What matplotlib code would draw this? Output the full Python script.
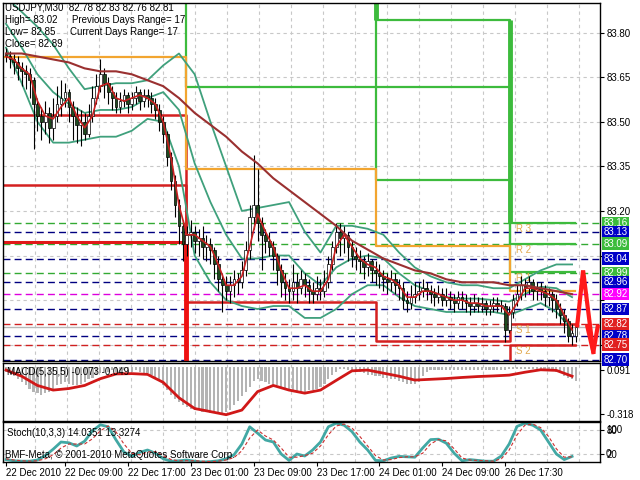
import matplotlib.pyplot as plt
from matplotlib.transforms import blended_transform_factory

# USDJPY M30 candles
opens = [83.73, 83.72, 83.71, 83.70, 83.68, 83.67, 83.66, 83.64, 83.56, 83.52,
         83.50, 83.53, 83.48, 83.52, 83.56, 83.58, 83.60, 83.55, 83.52, 83.49,
         83.50, 83.46, 83.52, 83.58, 83.62, 83.66, 83.63, 83.60, 83.58, 83.55,
         83.57, 83.59, 83.56, 83.58, 83.60, 83.57, 83.59, 83.58, 83.56, 83.54,
         83.50, 83.46, 83.38, 83.30, 83.22, 83.15, 83.09, 83.12, 83.13, 83.10,
         83.11, 83.08, 83.09, 83.07, 83.02, 82.97, 82.95, 82.93, 82.95, 82.97,
         82.96, 83.00, 83.07, 83.18, 83.22, 83.16, 83.12, 83.10, 83.08, 83.05,
         83.00, 82.96, 82.94, 82.93, 82.96, 82.94, 82.97, 82.95, 82.93, 82.92,
         82.94, 82.93, 82.96, 83.02, 83.08, 83.13, 83.11, 83.12, 83.08, 83.05,
         83.04, 83.03, 83.01, 83.03, 83.00, 82.99, 82.98, 82.97, 82.96, 82.97,
         82.95, 82.94, 82.90, 82.89, 82.91, 82.92, 82.93, 82.94, 82.93, 82.92,
         82.91, 82.92, 82.90, 82.91, 82.90, 82.89, 82.91, 82.90, 82.89, 82.88,
         82.89, 82.88, 82.89, 82.87, 82.88, 82.89, 82.88, 82.88, 82.80, 82.86,
         82.90, 82.92, 82.95, 82.94, 82.96, 82.93, 82.94, 82.93, 82.91, 82.92,
         82.90, 82.87, 82.85, 82.83, 82.78, 82.78]
highs = [83.75, 83.74, 83.73, 83.72, 83.70, 83.69, 83.68, 83.65, 83.58, 83.55,
         83.57, 83.55, 83.58, 83.62, 83.64, 83.63, 83.61, 83.57, 83.55, 83.54,
         83.53, 83.56, 83.62, 83.66, 83.71, 83.68, 83.65, 83.62, 83.60, 83.60,
         83.61, 83.60, 83.60, 83.62, 83.61, 83.61, 83.61, 83.60, 83.58, 83.56,
         83.52, 83.47, 83.40, 83.32, 83.24, 83.17, 83.15, 83.17, 83.15, 83.14,
         83.15, 83.12, 83.11, 83.08, 83.05, 82.99, 82.98, 82.98, 83.00, 82.99,
         83.03, 83.10, 83.22, 83.39, 83.34, 83.18, 83.14, 83.13, 83.10, 83.06,
         83.02, 82.99, 82.97, 83.02, 82.99, 83.00, 82.99, 82.97, 82.96, 82.98,
         82.97, 83.00, 83.05, 83.10, 83.16, 83.16, 83.15, 83.13, 83.10, 83.08,
         83.07, 83.05, 83.06, 83.04, 83.03, 83.02, 83.00, 82.99, 83.00, 82.99,
         82.97, 82.96, 82.93, 82.95, 82.96, 82.96, 82.97, 82.96, 82.95, 82.94,
         82.95, 82.94, 82.94, 82.93, 82.92, 82.93, 82.93, 82.92, 82.91, 82.92,
         82.91, 82.91, 82.90, 82.90, 82.91, 82.91, 82.90, 82.89, 82.88, 82.92,
         82.95, 82.98, 82.97, 82.98, 82.97, 82.96, 82.96, 82.95, 82.94, 82.93,
         82.92, 82.89, 82.87, 82.84, 82.82, 82.83]
lows = [83.70, 83.68, 83.66, 83.64, 83.62, 83.61, 83.58, 83.41, 83.47, 83.44,
        83.46, 83.43, 83.44, 83.50, 83.52, 83.55, 83.50, 83.44, 83.43, 83.42,
        83.44, 83.45, 83.50, 83.56, 83.60, 83.58, 83.56, 83.54, 83.53, 83.53,
        83.55, 83.53, 83.54, 83.56, 83.54, 83.55, 83.55, 83.53, 83.51, 83.47,
        83.43, 83.35, 83.27, 83.18, 83.09, 83.03, 83.05, 83.08, 83.06, 83.05,
        83.04, 83.03, 83.02, 82.97, 82.93, 82.86, 82.90, 82.89, 82.91, 82.92,
        82.94, 82.98, 83.04, 83.14, 83.10, 83.00, 83.06, 83.05, 83.00, 82.95,
        82.91, 82.90, 82.89, 82.90, 82.89, 82.92, 82.91, 82.89, 82.89, 82.90,
        82.90, 82.91, 82.94, 83.00, 83.06, 83.05, 83.06, 83.03, 83.01, 83.00,
        82.99, 82.97, 82.98, 82.96, 82.95, 82.94, 82.93, 82.92, 82.93, 82.92,
        82.90, 82.87, 82.86, 82.87, 82.89, 82.90, 82.91, 82.90, 82.89, 82.88,
        82.89, 82.88, 82.88, 82.87, 82.86, 82.87, 82.87, 82.86, 82.85, 82.86,
        82.86, 82.86, 82.85, 82.85, 82.86, 82.86, 82.86, 82.76, 82.79, 82.84,
        82.88, 82.90, 82.91, 82.92, 82.90, 82.90, 82.90, 82.88, 82.88, 82.86,
        82.84, 82.82, 82.79, 82.76, 82.75, 82.76]
closes = [83.72, 83.71, 83.70, 83.68, 83.67, 83.66, 83.64, 83.56, 83.52, 83.50,
          83.53, 83.48, 83.52, 83.56, 83.58, 83.60, 83.55, 83.52, 83.49, 83.50,
          83.46, 83.52, 83.58, 83.62, 83.66, 83.63, 83.60, 83.58, 83.55, 83.57,
          83.59, 83.56, 83.58, 83.60, 83.57, 83.59, 83.58, 83.56, 83.54, 83.50,
          83.46, 83.38, 83.30, 83.22, 83.15, 83.09, 83.12, 83.13, 83.10, 83.11,
          83.08, 83.09, 83.07, 83.02, 82.97, 82.95, 82.93, 82.95, 82.97, 82.96,
          83.00, 83.07, 83.18, 83.22, 83.16, 83.12, 83.10, 83.08, 83.05, 83.00,
          82.96, 82.94, 82.93, 82.96, 82.94, 82.97, 82.95, 82.93, 82.92, 82.94,
          82.93, 82.96, 83.02, 83.08, 83.13, 83.11, 83.12, 83.08, 83.05, 83.04,
          83.03, 83.01, 83.03, 83.00, 82.99, 82.98, 82.97, 82.96, 82.97, 82.95,
          82.94, 82.90, 82.89, 82.91, 82.92, 82.93, 82.94, 82.93, 82.92, 82.91,
          82.92, 82.90, 82.91, 82.90, 82.89, 82.91, 82.90, 82.89, 82.88, 82.89,
          82.88, 82.89, 82.87, 82.88, 82.89, 82.88, 82.88, 82.80, 82.86, 82.90,
          82.92, 82.95, 82.94, 82.96, 82.93, 82.94, 82.93, 82.91, 82.92, 82.90,
          82.87, 82.85, 82.83, 82.78, 82.79, 82.81]

# fast MA, read every 2 bars
fast_ma = [83.72, 83.71, 83.68, 83.66, 83.57, 83.52, 83.51, 83.55, 83.58, 83.52,
           83.48, 83.52, 83.62, 83.63, 83.58, 83.57, 83.58, 83.59, 83.58, 83.56,
           83.50, 83.38, 83.22, 83.12, 83.12, 83.10, 83.08, 83.02, 82.95, 82.95,
           82.98, 83.08, 83.19, 83.13, 83.08, 83.00, 82.94, 82.94, 82.95, 82.93,
           82.93, 82.97, 83.08, 83.12, 83.08, 83.04, 83.02, 83.01, 82.98, 82.97,
           82.95, 82.91, 82.91, 82.93, 82.93, 82.92, 82.91, 82.90, 82.90, 82.89,
           82.89, 82.88, 82.88, 82.88, 82.85, 82.89, 82.94, 82.94, 82.93, 82.92,
           82.90, 82.85, 82.80]
# slow MA and Bollinger bands, read every 4 bars
slow_ma = [83.73, 83.73, 83.72, 83.71, 83.70, 83.68, 83.67, 83.67, 83.66, 83.64,
           83.62, 83.58, 83.53, 83.49, 83.45, 83.40, 83.36, 83.31, 83.27, 83.23,
           83.19, 83.15, 83.10, 83.07, 83.04, 83.02, 83.00, 82.99, 82.97, 82.96,
           82.96, 82.96, 82.95, 82.95, 82.94, 82.93, 82.92]
bb_upper = [83.92, 83.87, 83.82, 83.76, 83.68, 83.61, 83.62, 83.63, 83.63, 83.64,
            83.69, 83.73, 83.66, 83.50, 83.35, 83.20, 83.21, 83.22, 83.23, 83.13,
            83.06, 83.15, 83.15, 83.14, 83.12, 83.06, 83.01, 82.98, 82.96, 82.95,
            82.95, 82.94, 82.94, 82.97, 83.00, 83.02, 83.02]
bb_mid = [83.83, 83.75, 83.66, 83.60, 83.56, 83.53, 83.54, 83.54, 83.55, 83.58,
          83.60, 83.54, 83.36, 83.23, 83.12, 83.04, 83.04, 83.05, 83.05, 82.99,
          82.95, 83.01, 83.04, 83.05, 83.04, 82.99, 82.95, 82.93, 82.91, 82.905,
          82.905, 82.90, 82.895, 82.92, 82.945, 82.94, 82.91]
bb_lower = [83.75, 83.63, 83.50, 83.43, 83.43, 83.44, 83.45, 83.45, 83.47, 83.51,
            83.50, 83.35, 83.05, 82.96, 82.90, 82.88, 82.87, 82.88, 82.88, 82.84,
            82.84, 82.87, 82.92, 82.95, 82.95, 82.91, 82.88, 82.87, 82.86, 82.86,
            82.86, 82.86, 82.85, 82.87, 82.89, 82.86, 82.80]

# daily pivot levels (one value per day)
day_edges = [-0.8, 45.8, 94.2, 128.1, 144.8]
pivot_p = [83.717, 83.34, 83.083, 82.93]
r1 = [84.05, 83.616, 83.304, 82.995]
r2 = [84.25, 84.00, 83.616, 83.09]
r3 = [84.45, 84.20, 83.844, 83.16]
s1 = [83.522, 82.895, 82.764, 82.82]
s2 = [83.287, 82.50, 82.45, 82.75]
s3 = [83.096, 82.30, 82.25, 82.60]

level_values = [83.16, 83.13, 83.09, 83.04, 82.99, 82.96, 82.92, 82.87, 82.82, 82.78, 82.75, 82.70]
level_kinds = ['g', 'b', 'g', 'b', 'g', 'b', 'm', 'b', 'r', 'b', 'r', 'b']
bid = 82.81
forecast_bars = [145.3, 146.8, 149.4]
forecast_prices = [82.815, 83.00, 82.725]
arrowhead_bars = [147.9, 149.4, 150.5]
arrowhead_prices = [82.81, 82.725, 82.81]

# MACD
macd_hist = [-0.03, -0.04, -0.06, -0.075,
             -0.10, -0.12, -0.14, -0.16, -0.17, -0.18,
             -0.17, -0.16, -0.14, -0.12, -0.11, -0.10,
             -0.11, -0.12, -0.12, -0.11, -0.10,
             -0.08, -0.07, -0.05, -0.04, -0.03, -0.03,
             -0.02, -0.03, -0.03, -0.02, -0.03, -0.03, -0.02, -0.03, -0.04, -0.04,
             -0.055, -0.07, -0.09, -0.12, -0.15, -0.18,
             -0.21, -0.23, -0.25, -0.26, -0.27, -0.28, -0.28,
             -0.29, -0.29, -0.30, -0.30, -0.30, -0.30, -0.29, -0.28,
             -0.25, -0.22, -0.19, -0.16, -0.13,
             -0.09, -0.08, -0.09, -0.10, -0.11, -0.12, -0.12, -0.13,
             -0.14, -0.15, -0.15, -0.16, -0.16, -0.16, -0.15, -0.15, -0.14,
             -0.13, -0.11, -0.08, -0.05, -0.03, -0.01,
             -0.01, -0.02, -0.02, -0.03, -0.03, -0.04, -0.05,
             -0.05, -0.06, -0.06, -0.07, -0.07, -0.08, -0.08, -0.09,
             -0.10, -0.11, -0.11, -0.11, -0.10,
             -0.06, -0.03, -0.02, -0.02, -0.02, -0.02, -0.02, -0.02, -0.02, -0.02,
             -0.02, -0.02, -0.02, -0.02, -0.02, -0.02, -0.02, -0.02, -0.02, -0.02, -0.02, -0.02,
             -0.01, -0.01, -0.01, -0.01, -0.01, -0.01, -0.01, -0.01, -0.01, -0.01, -0.01, -0.01,
             -0.03, -0.04, -0.06, -0.07, -0.08, -0.09]
macd_signal = [-0.02, -0.06, -0.12, -0.15, -0.14, -0.12, -0.076, -0.045, -0.043, -0.048,
               -0.10, -0.20, -0.27, -0.29, -0.31, -0.28, -0.16, -0.12, -0.15, -0.17,
               -0.15, -0.087, -0.025, -0.02, -0.04, -0.06, -0.085, -0.08, -0.075, -0.068,
               -0.062, -0.058, -0.053, -0.034, -0.018, -0.022, -0.060]

# Stochastic, read every 2 bars
stoch_main = [6, 3, 2, 2, 5, 16, 32, 50, 48, 40, 52, 78, 93, 88, 55, 25, 14, 24, 30, 22,
              8, 2, 3, 5, 2, 0, 1, 3, 8, 18, 45, 88, 72, 55, 50, 20, 4, 20, 15, 30,
              50, 88, 97, 92, 76, 50, 30, 4, 3, 10, 14, 13, 12, 35, 56, 57, 47, 22, 3, 6,
              4, 2, 2, 15, 45, 89, 97, 92, 80, 50, 20, 6, 14]
stoch_signal = [8, 5, 3, 2, 3, 8, 18, 35, 45, 45, 45, 58, 78, 90, 75, 45, 22, 18, 25, 26,
                16, 6, 3, 3, 3, 2, 1, 2, 5, 11, 28, 60, 80, 65, 55, 35, 12, 12, 16, 22,
                40, 68, 90, 95, 85, 64, 40, 16, 5, 6, 11, 13, 13, 22, 45, 56, 53, 33, 10, 5,
                4, 3, 2, 8, 30, 68, 92, 95, 86, 64, 33, 12, 13]

date_bars = [0, 15, 31, 47, 63, 79, 95, 111, 127]
date_labels = ['22 Dec 2010', '22 Dec 09:00', '22 Dec 17:00', '23 Dec 01:00', '23 Dec 09:00',
               '23 Dec 17:00', '24 Dec 01:00', '24 Dec 09:00', '26 Dec 17:30']

plt.rcParams['font.family'] = ['Liberation Sans', 'DejaVu Sans']
fs = 7

fig = plt.figure(figsize=(6.4, 4.8), dpi=100)
ax = fig.add_axes([3/640, 1-361/480, 597/640, 358/480])
axm = fig.add_axes([3/640, 1-421/480, 597/640, 58/480], sharex=ax)
axs = fig.add_axes([3/640, 1-462/480, 597/640, 40/480], sharex=ax)

grid_x = [(3.3 + 32*k - 6) / 3.93 for k in range(1, 19)]
for a in (ax, axm, axs):
    for gx in grid_x:
        a.axvline(gx, color='#c8c8c8', lw=0.8, ls=(0, (3, 3)), zorder=0)
    for sp in a.spines.values():
        sp.set_linewidth(1)
        sp.set_color('black')
    a.yaxis.tick_right()
    a.tick_params(axis='y', length=3, width=0.8, labelsize=fs, pad=2, direction='out')
    a.tick_params(axis='x', bottom=False, labelbottom=False)
ax.set_xlim(-0.76, 151.1)

# main price chart
ax.set_ylim(82.695, 83.90)
price_ticks = [82.75, 82.90, 83.05, 83.20, 83.35, 83.50, 83.65, 83.80]
ax.set_yticks(price_ticks)
ax.set_yticklabels([f'{p:.2f}' if p >= 83.2 else '' for p in price_ticks])
for p in price_ticks:
    ax.axhline(p, color='#c8c8c8', lw=0.8, ls=(0, (3, 3)), zorder=0)

kind_colors = {'g': '#33aa33', 'b': '#000080', 'm': '#dd00dd', 'r': '#d02020'}
box_colors = {'g': '#3cbc3c', 'b': '#0000c8', 'm': '#ff00ff', 'r': '#e02020'}
trans = blended_transform_factory(ax.transAxes, ax.transData)
for v, k in zip(level_values, level_kinds):
    ax.axhline(v, color=kind_colors[k], lw=1.0, ls=(0, (5, 3)), zorder=1)
    ax.text(1.006, v, f'{v:.2f}', transform=trans, color='white', fontsize=fs,
            va='center', ha='left', clip_on=False,
            bbox=dict(boxstyle='square,pad=0.12', fc=box_colors[k], ec='none'))
ax.axhline(bid, color='#b8b8b8', lw=1.0, zorder=1)

# daily pivot steps
for vals, col, lw in [(r1, '#3dbb3d', 1.6), (r2, '#3dbb3d', 1.6), (r3, '#3dbb3d', 1.6),
                      (s1, '#d42020', 1.8), (s2, '#d42020', 1.8), (s3, '#e01818', 2.2),
                      (pivot_p, '#f2a530', 1.6)]:
    ax.plot(day_edges, vals + [vals[-1]], drawstyle='steps-post', color=col, lw=lw, zorder=2)
for j in range(1, 4):
    ax.vlines(day_edges[j], min(r3[j-1], r3[j]), max(r3[j-1], r3[j]), color='#3dbb3d', lw=3.5, zorder=2)
    ax.vlines(day_edges[j], min(s3[j-1], s3[j]), max(s3[j-1], s3[j]), color='#ee1111', lw=3.5, zorder=2)
for name, v in [('R 3', r3[3]), ('R 2', r2[3]), ('R 1', r1[3]), ('S 1', s1[3]), ('S 2', s2[3])]:
    ax.text(129.8, v - 0.022, name, color='#e2aa50', fontsize=fs, va='center', ha='left', zorder=2)

# indicators
x4 = [4*i for i in range(len(slow_ma))]
x2 = [2*i for i in range(len(fast_ma))]
for band in (bb_upper, bb_mid, bb_lower):
    ax.plot(x4, band, color='#3fa07c', lw=1.3, zorder=2.5)
ax.plot(x4, slow_ma, color='#9a3030', lw=1.5, zorder=4)

# candles
idx = list(range(len(closes)))
ax.vlines(idx, lows, highs, color='black', lw=0.8, zorder=3)
body_bottom = [min(o, c) for o, c in zip(opens, closes)]
body_height = [max(abs(c - o), 0.004) for o, c in zip(opens, closes)]
body_color = ['white' if c >= o else '#1e4b1e' for o, c in zip(opens, closes)]
ax.bar(idx, body_height, bottom=body_bottom, width=0.7, color=body_color,
       edgecolor='black', linewidth=0.5, zorder=3.5)
ax.plot(x2, fast_ma, color='#c82020', lw=1.2, zorder=4)

# forecast arrow
ax.plot(forecast_bars, forecast_prices, color='#ff1a1a', lw=3, solid_joinstyle='miter', zorder=5, clip_on=False)
ax.plot(arrowhead_bars, arrowhead_prices, color='#ff1a1a', lw=3, zorder=5, clip_on=False)

# header text
def ftext(x, y, s):
    fig.text(x/640, 1 - y/480, s, fontsize=fs, va='center', ha='left', color='black')
ftext(5, 8, 'USDJPY,M30  82.78 82.83 82.76 82.81')
ftext(5, 20, 'High= 83.02')
ftext(72, 20, 'Previous Days Range= 17')
ftext(5, 32, 'Low= 82.85')
ftext(70, 32, 'Current Days Range= 17')
ftext(5, 44, 'Close= 82.89')

# MACD panel
axm.set_ylim(-0.351, 0.026)
axm.bar(idx, macd_hist, width=0.55, color='#b4b4b4', zorder=1)
axm.plot(x4, macd_signal, color='#d01818', lw=2, zorder=2)
axm.set_yticks([-0.019, -0.305])
axm.set_yticklabels(['0.091', '-0.318'])
ftext(7, 372, 'MACD(5,35,5) -0.073 -0.049')

# Stochastic panel
axs.set_ylim(0, 100)
for lv in (20, 80):
    axs.axhline(lv, color='#c8c8c8', lw=0.8, ls=(0, (3, 3)), zorder=0)
axs.plot(x2, stoch_main, color='#42a8a4', lw=2, zorder=2)
axs.plot(x2, stoch_signal, color='#cc3030', lw=0.8, ls=(0, (3, 2)), zorder=3)
axs.set_yticks([20, 80])
axs.set_yticklabels(['20', '80'])
strans = blended_transform_factory(axs.transAxes, axs.transData)
axs.text(1.01, 80, '100', transform=strans, fontsize=fs, va='center', ha='left')
axs.text(1.01, 20, '0', transform=strans, fontsize=fs, va='center', ha='left')
ftext(7, 433, 'Stoch(10,3,3) 14.0351 13.3274')
ftext(5, 455, 'BMF-Meta, \u00a9 2001-2010 MetaQuotes Software Corp.')

axs.set_xticks(date_bars)
axs.set_xticklabels(date_labels, ha='left')
axs.tick_params(axis='x', bottom=True, labelbottom=True, length=3, width=0.8,
                labelsize=fs, pad=1)

fig.savefig('out.png', dpi=100)
